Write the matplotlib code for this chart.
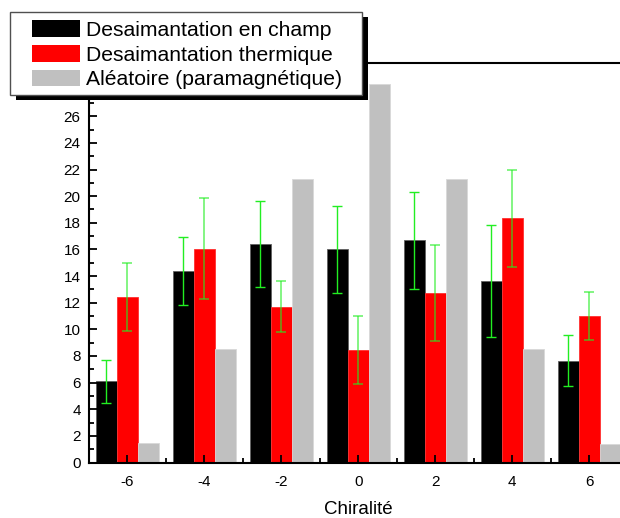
import numpy as np
import matplotlib
matplotlib.use('Agg')
import matplotlib.pyplot as plt
from matplotlib.patches import Rectangle, Patch
from matplotlib.ticker import MultipleLocator

plt.rcParams['font.family'] = ['Liberation Sans', 'DejaVu Sans']
plt.rcParams['axes.unicode_minus'] = False

chirality = [-6, -4, -2, 0, 2, 4, 6]
champ = [6.1, 14.4, 16.4, 16.0, 16.7, 13.6, 7.65]
champ_err = [1.6, 2.55, 3.2, 3.25, 3.65, 4.2, 1.9]
thermique = [12.45, 16.05, 11.7, 8.45, 12.75, 18.35, 11.0]
thermique_err = [2.55, 3.8, 1.92, 2.52, 3.6, 3.64, 1.82]
aleatoire = [1.45, 8.55, 21.3, 28.45, 21.3, 8.55, 1.42]
labels = ['Desaimantation en champ', 'Desaimantation thermique',
          'Aléatoire (paramagnétique)']

W, H = 620, 518
fig = plt.figure(figsize=(W / 100, H / 100), dpi=100)
ax = fig.add_axes([89 / W, 1 - 462.5 / H, (627.8 - 89) / W, 399.5 / H])

x = np.array(chirality)
bw = 0.55
ax.bar(x - bw, champ, bw, color='black', edgecolor='#606060', linewidth=0.6)
ax.bar(x, thermique, bw, color='#ff0000', edgecolor='#ff3030', linewidth=0.6)
ax.bar(x + bw, aleatoire, bw, color='#c0c0c0', edgecolor='#d8d8d8', linewidth=0.6)
ax.errorbar(x - bw, champ, yerr=champ_err, fmt='none', ecolor='#22ee22',
            elinewidth=1, capsize=3.5, capthick=1)
ax.errorbar(x, thermique, yerr=thermique_err, fmt='none', ecolor='#22ee22',
            elinewidth=1.2, capsize=3.5, capthick=1.2, alpha=0.65)

ax.set_xlim(-7, 7)
ax.set_ylim(0, 30)
ax.xaxis.set_major_locator(MultipleLocator(2))
ax.xaxis.set_minor_locator(MultipleLocator(1))
ax.yaxis.set_major_locator(MultipleLocator(2))
ax.yaxis.set_minor_locator(MultipleLocator(1))
ax.tick_params(which='both', direction='in', width=1.3, top=False, right=False)
ax.tick_params(which='major', length=6)
ax.tick_params(which='minor', length=3.5)
ax.tick_params(axis='x', pad=9, labelsize=11)
ax.tick_params(axis='y', pad=6, labelsize=11)
for s in ax.spines.values():
    s.set_linewidth(1.5)
ax.set_xlabel('Chiralité', fontsize=13.5, labelpad=9)

# legend frame with black drop shadow
x0, y0, x1, y1 = 10, 12, 362, 95
fig.add_artist(Rectangle(((x0 + 6) / W, 1 - (y1 + 5) / H), (x1 - x0) / W, (y1 - y0) / H,
                         transform=fig.transFigure, facecolor='black', edgecolor='none', zorder=3))
fig.add_artist(Rectangle((x0 / W, 1 - y1 / H), (x1 - x0) / W, (y1 - y0) / H,
                         transform=fig.transFigure, facecolor='white', edgecolor='#505050',
                         linewidth=1, zorder=4))
handles = [Patch(facecolor=c, edgecolor='none') for c in ['black', '#ff0000', '#c0c0c0']]
fig.legend(handles, labels, loc='upper left', bbox_to_anchor=(32 / W, 1 - 20 / H),
           frameon=False, fontsize=15.2, borderpad=0, borderaxespad=0,
           handlelength=2.25, handleheight=0.85, handletextpad=0.3, labelspacing=0.24)

plt.savefig('out.png', dpi=100)
